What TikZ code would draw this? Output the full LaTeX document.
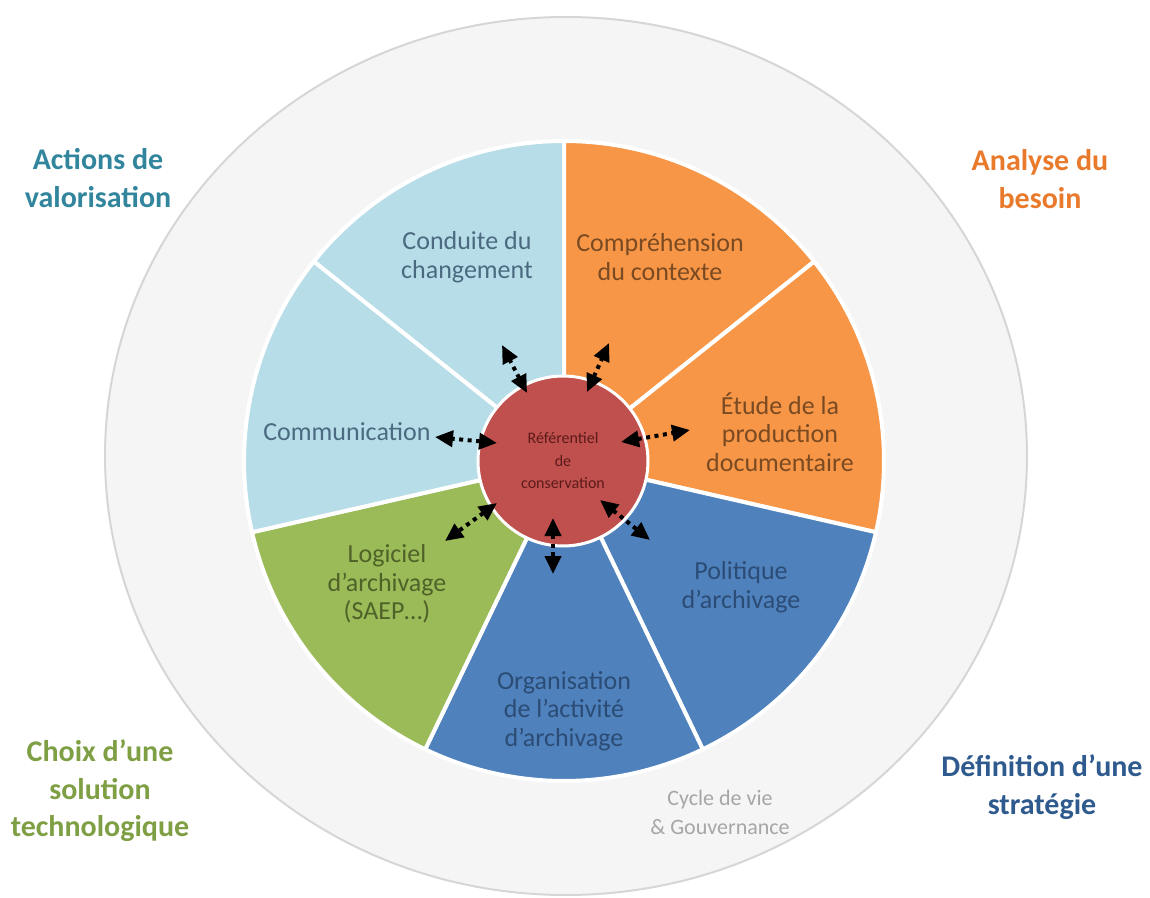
\documentclass[tikz,border=0pt]{standalone}
\usepackage{fontspec}
\setmainfont{Carlito}
\usetikzlibrary{arrows.meta}

\definecolor{ring}{HTML}{F5F5F5}
\definecolor{ringline}{HTML}{D6D6D6}
\definecolor{sky}{HTML}{B7DDE8}
\definecolor{tangerine}{HTML}{F79646}
\definecolor{steel}{HTML}{4F81BD}
\definecolor{olive}{HTML}{9BBB59}
\definecolor{brick}{HTML}{C0504D}
\definecolor{teal}{HTML}{31859C}
\definecolor{rust}{HTML}{E97A2C}
\definecolor{moss}{HTML}{7F9F45}
\definecolor{navy}{HTML}{2E5A8E}
\definecolor{skytext}{HTML}{4B6A80}
\definecolor{tangtext}{HTML}{7A4A22}
\definecolor{steeltext}{HTML}{2B4C75}
\definecolor{olivetext}{HTML}{4F6228}
\definecolor{bricktext}{HTML}{5C1A1A}

\begin{document}
\begin{tikzpicture}[x=1pt,y=1pt,
  wedge/.style={draw=white,line width=4pt,line join=round},
  phase/.style={font=\fontsize{30}{37.5}\selectfont\bfseries,align=center},
  slicetext/.style={font=\fontsize{26}{28.5}\selectfont,align=center},
  linkarrow/.style={draw=black,line width=4pt,dash pattern=on 4pt off 4.5pt,
    {Triangle[length=18pt,width=16pt]}-{Triangle[length=18pt,width=16pt]}}]
  \useasboundingbox (-564,-436) rectangle (586,461);

  % anneau gris
  \path[draw=ringline,fill=ring,line width=2pt] (2,5) ellipse [x radius=461pt, y radius=439pt];

  % secteurs
  \path[wedge,fill=sky] (0,0) -- (141.43:320) arc [start angle=141.43, end angle=90, radius=320pt] -- cycle;
  \path[wedge,fill=tangerine] (0,0) -- (90:320) arc [start angle=90, end angle=38.57, radius=320pt] -- cycle;
  \path[wedge,fill=tangerine] (0,0) -- (38.57:320) arc [start angle=38.57, end angle=-12.86, radius=320pt] -- cycle;
  \path[wedge,fill=steel] (0,0) -- (-12.86:320) arc [start angle=-12.86, end angle=-64.29, radius=320pt] -- cycle;
  \path[wedge,fill=steel] (0,0) -- (-64.29:320) arc [start angle=-64.29, end angle=-115.71, radius=320pt] -- cycle;
  \path[wedge,fill=olive] (0,0) -- (-115.71:320) arc [start angle=-115.71, end angle=-167.14, radius=320pt] -- cycle;
  \path[wedge,fill=sky] (0,0) -- (-167.14:320) arc [start angle=-167.14, end angle=-218.57, radius=320pt] -- cycle;

  % textes des secteurs
  \node[slicetext,text=skytext] (conduite) at (-97,204) {Conduite du\\changement};
  \node[slicetext,text=tangtext] (comprehension) at (96,204) {Compréhension\\du contexte};
  \node[slicetext,text=tangtext] (etude) at (216,29) {Étude de la\\production\\documentaire};
  \node[slicetext,text=steeltext] (politique) at (177,-126) {Politique\\d’archivage};
  \node[slicetext,text=steeltext] (organisation) at (0,-250) {Organisation\\de l’activité\\d’archivage};
  \node[slicetext,text=olivetext] (logiciel) at (-177,-123) {Logiciel\\d’archivage\\(SAEP…)};
  \node[slicetext,text=skytext] (communication) at (-217,29) {Communication};

  % centre
  \node[circle,fill=brick,draw=white,line width=3pt,minimum size=170pt,inner sep=0pt,
    text=bricktext,font=\fontsize{16}{22.5}\selectfont,align=center] (referentiel) at (-1,0)
    {Référentiel\\de\\conservation};

  % phases
  \node[phase,text=teal] (valorisation) at (-466,283) {Actions de\\valorisation};
  \node[phase,text=rust] (besoin) at (476,282) {Analyse du\\besoin};
  \node[phase,text=moss] (solution) at (-464,-330) {Choix d’une\\solution\\technologique};
  \node[phase,text=navy] (strategie) at (478,-326) {Définition d’une\\stratégie};
  \node[font=\fontsize{22}{29}\selectfont,align=center,text=black!35] (cycle) at (156,-351)
    {Cycle de vie\\\& Gouvernance};

  % fleches
  \coordinate (in1) at (-37,68);  \coordinate (out1) at (-62,116);
  \coordinate (in2) at (23,69);   \coordinate (out2) at (45,118);
  \coordinate (in3) at (57,19);   \coordinate (out3) at (126,31);
  \coordinate (in4) at (-67,18);  \coordinate (out4) at (-129,24);
  \coordinate (in5) at (-67,-42); \coordinate (out5) at (-119,-80);
  \coordinate (in6) at (-11,-57); \coordinate (out6) at (-11,-113);
  \coordinate (in7) at (36,-39);  \coordinate (out7) at (86,-79);
  \path[linkarrow] (in1) -- (out1);
  \path[linkarrow] (in2) -- (out2);
  \path[linkarrow] (in3) -- (out3);
  \path[linkarrow] (in4) -- (out4);
  \path[linkarrow] (in5) -- (out5);
  \path[linkarrow] (in6) -- (out6);
  \path[linkarrow] (in7) -- (out7);
\end{tikzpicture}
\end{document}
